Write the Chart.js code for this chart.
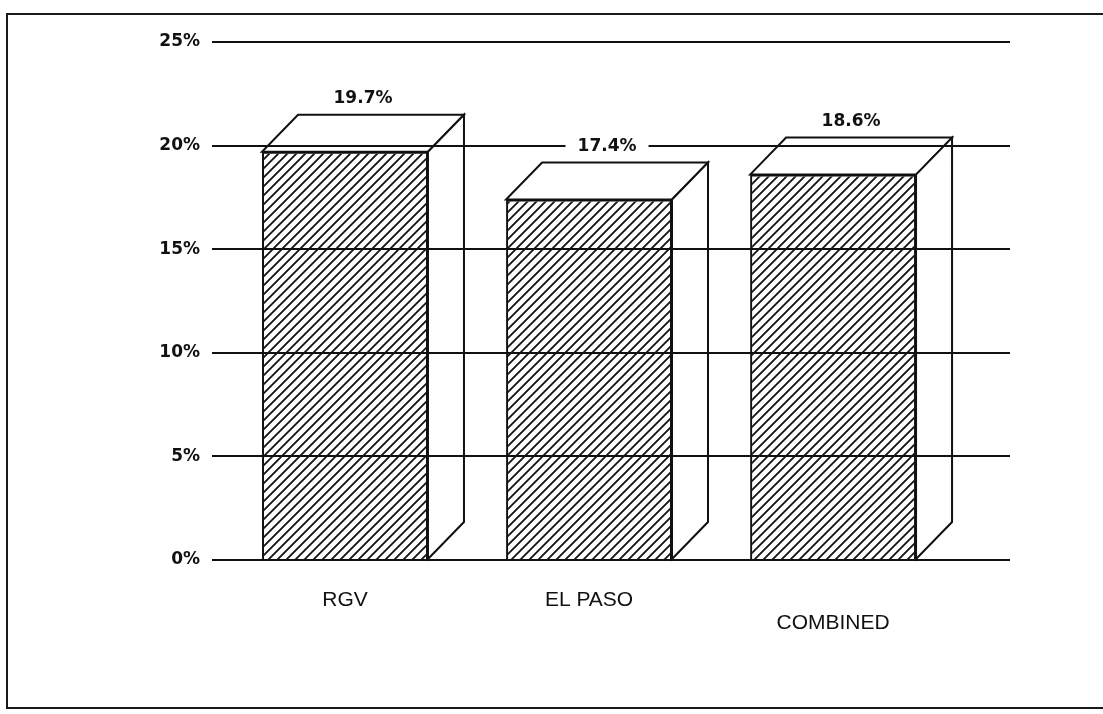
<!DOCTYPE html>
<html>
<head>
<meta charset="utf-8">
<script src="https://cdn.jsdelivr.net/npm/chart.js@4.4.1/dist/chart.umd.min.js"></script>
<style>
  html, body { margin: 0; padding: 0; background: #fff; }
  #wrap { position: relative; width: 1103px; height: 714px; }
  #marco { position: absolute; left: 6px; top: 13px; width: 1110px; height: 692px;
           border: 2px solid #1a1a1a; pointer-events: none; }
</style>
</head>
<body>
<div id="wrap">
  <canvas id="grafico" width="1103" height="714"></canvas>
  <div id="marco"></div>
</div>
<script>
// Datos
var categorias = ['RGV', 'EL PASO', 'COMBINED'];
var valores = [19.7, 17.4, 18.6];
var etiquetasX = ['RGV', 'EL PASO', ['', 'COMBINED']];
var ticksY = [0, 5, 10, 15, 20, 25];

// Profundidad del efecto 3D (pixeles)
var DX = 36, DY = -37;

// Trama diagonal para la cara frontal
function crearTrama() {
    var c = document.createElement('canvas');
    c.width = 9; c.height = 9;
    var g = c.getContext('2d');
    g.strokeStyle = '#111';
    g.lineWidth = 1.8;
    g.beginPath();
    g.moveTo(0, 9); g.lineTo(9, 0);
    g.moveTo(-2, 2); g.lineTo(2, -2);
    g.moveTo(7, 11); g.lineTo(11, 7);
    g.stroke();
    return g.createPattern(c, 'repeat');
}

// Caras superior y lateral de cada barra
var caras3D = {
    id: 'caras3D',
    afterDatasetsDraw: function(chart) {
        var ctx = chart.ctx;
        var meta = chart.getDatasetMeta(0);
        ctx.save();
        ctx.strokeStyle = '#111';
        ctx.lineWidth = 2;
        meta.data.forEach(function(bar) {
            var p = bar.getProps(['x', 'y', 'base', 'width'], true);
            var l = p.x - p.width / 2, r = p.x + p.width / 2;
            // cara superior
            ctx.beginPath();
            ctx.moveTo(l, p.y);
            ctx.lineTo(l + DX, p.y + DY);
            ctx.lineTo(r + DX, p.y + DY);
            ctx.lineTo(r, p.y);
            ctx.closePath();
            ctx.fillStyle = '#fff';
            ctx.fill();
            ctx.stroke();
            // cara lateral
            ctx.beginPath();
            ctx.moveTo(r, p.y);
            ctx.lineTo(r + DX, p.y + DY);
            ctx.lineTo(r + DX, p.base + DY);
            ctx.lineTo(r, p.base);
            ctx.closePath();
            ctx.fill();
            ctx.stroke();
        });
        ctx.restore();
    },
    afterDraw: function(chart) {
        var ctx = chart.ctx;
        var meta = chart.getDatasetMeta(0);
        ctx.save();
        ctx.font = 'bold 17px "DejaVu Sans"';
        ctx.textAlign = 'center';
        ctx.textBaseline = 'middle';
        meta.data.forEach(function(bar, i) {
            var p = bar.getProps(['x', 'y', 'width'], true);
            var texto = valores[i].toFixed(1) + '%';
            var cx = p.x + DX / 2, cy = p.y + DY - 16;
            var w = ctx.measureText(texto).width + 24;
            ctx.fillStyle = '#fff';
            ctx.fillRect(cx - w / 2, cy - 10, w, 20);
            ctx.fillStyle = '#111';
            ctx.fillText(texto, cx, cy);
        });
        ctx.restore();
    }
};

document.addEventListener('DOMContentLoaded', function() {
    var ctx = document.getElementById('grafico').getContext('2d');
    var trama = crearTrama();

    var datos = {
        datasets: [{
            data: valores.map(function(v, i) { return { x: i, y: v }; }),
            backgroundColor: trama,
            borderColor: '#111',
            borderWidth: 2,
            barPercentage: 0.68,
            categoryPercentage: 1
        }]
    };

    new Chart(ctx, {
        type: 'bar',
        data: datos,
        plugins: [caras3D],
        options: {
            responsive: false,
            animation: false,
            layout: { padding: { left: 0, top: 42, right: 93, bottom: 0 } },
            plugins: { legend: { display: false }, tooltip: { enabled: false } },
            scales: {
                x: {
                    type: 'linear',
                    offset: false,
                    min: -0.545,
                    max: 2.725,
                    afterBuildTicks: function(axis) {
                        axis.ticks = categorias.map(function(c, i) { return { value: i }; });
                    },
                    afterFit: function(scale) { scale.height = 154; },
                    grid: { display: false, offset: false },
                    border: { display: false },
                    ticks: {
                        autoSkip: false,
                        maxRotation: 0,
                        padding: 21,
                        color: '#111',
                        font: { family: '"Liberation Sans"', size: 21, lineHeight: 1.1 },
                        callback: function(v) { return etiquetasX[v]; }
                    }
                },
                y: {
                    min: 0,
                    max: 25,
                    afterBuildTicks: function(axis) {
                        axis.ticks = ticksY.map(function(v) { return { value: v }; });
                    },
                    afterFit: function(scale) { scale.width = 212; },
                    border: { display: false },
                    grid: { color: '#111', lineWidth: 2, drawTicks: false, z: 1 },
                    ticks: {
                        padding: 12,
                        color: '#111',
                        font: { family: '"DejaVu Sans"', size: 17, weight: 'bold' },
                        callback: function(v) { return v + '%'; }
                    }
                }
            }
        }
    });
});
</script>
</body>
</html>
